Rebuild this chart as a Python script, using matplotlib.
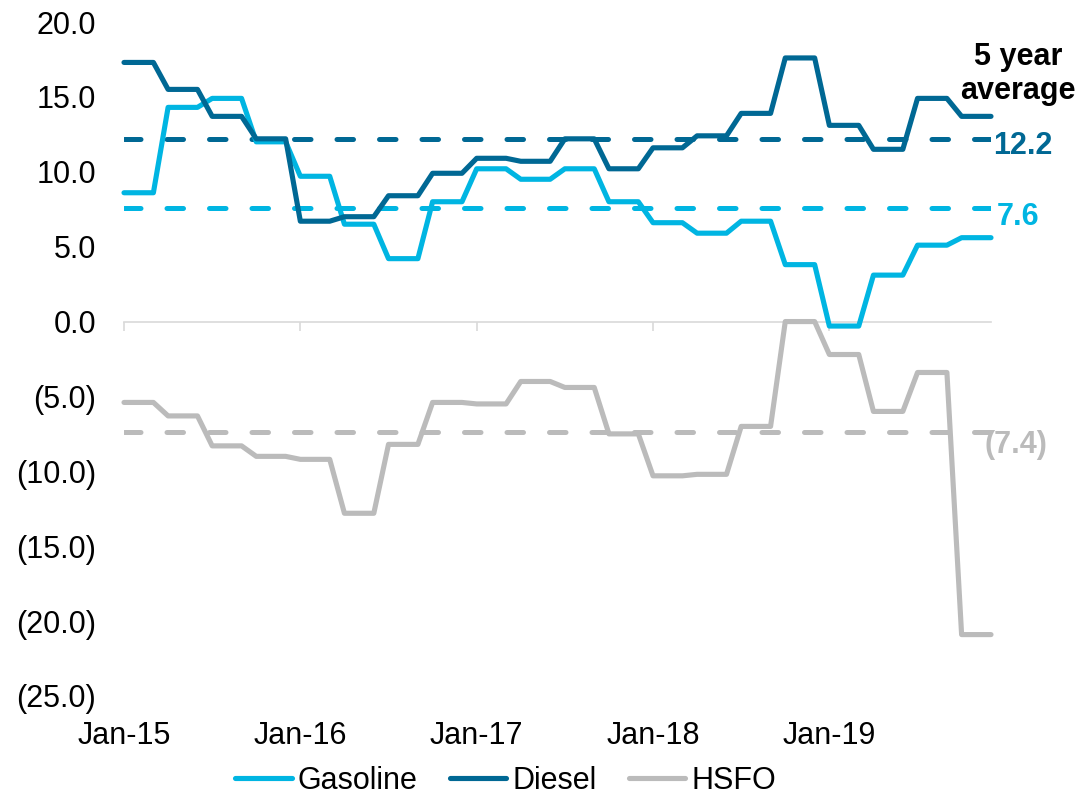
import matplotlib
matplotlib.use("Agg")
import matplotlib.pyplot as plt
from matplotlib.ticker import FuncFormatter
import numpy as np

plt.rcParams['font.family'] = ['Liberation Sans', 'DejaVu Sans']

# monthly spreads, Jan-15 .. Dec-19
gasoline = [8.6, 8.6, 8.6, 14.3, 14.3, 14.3, 14.9, 14.9, 14.9, 12.0, 12.0, 12.0,
            9.7, 9.7, 9.7, 6.5, 6.5, 6.5, 4.2, 4.2, 4.2, 8.0, 8.0, 8.0,
            10.2, 10.2, 10.2, 9.5, 9.5, 9.5, 10.2, 10.2, 10.2, 8.0, 8.0, 8.0,
            6.6, 6.6, 6.6, 5.9, 5.9, 5.9, 6.7, 6.7, 6.7, 3.8, 3.8, 3.8,
            -0.3, -0.3, -0.3, 3.1, 3.1, 3.1, 5.1, 5.1, 5.1, 5.6, 5.6, 5.6]
diesel = [17.3, 17.3, 17.3, 15.5, 15.5, 15.5, 13.7, 13.7, 13.7, 12.2, 12.2, 12.2,
          6.7, 6.7, 6.7, 7.0, 7.0, 7.0, 8.4, 8.4, 8.4, 9.9, 9.9, 9.9,
          10.9, 10.9, 10.9, 10.7, 10.7, 10.7, 12.2, 12.2, 12.2, 10.2, 10.2, 10.2,
          11.6, 11.6, 11.6, 12.4, 12.4, 12.4, 13.9, 13.9, 13.9, 17.6, 17.6, 17.6,
          13.1, 13.1, 13.1, 11.5, 11.5, 11.5, 14.9, 14.9, 14.9, 13.7, 13.7, 13.7]
hsfo = [-5.4, -5.4, -5.4, -6.3, -6.3, -6.3, -8.3, -8.3, -8.3, -9.0, -9.0, -9.0,
        -9.2, -9.2, -9.2, -12.8, -12.8, -12.8, -8.2, -8.2, -8.2, -5.4, -5.4, -5.4,
        -5.5, -5.5, -5.5, -4.0, -4.0, -4.0, -4.4, -4.4, -4.4, -7.5, -7.5, -7.5,
        -10.3, -10.3, -10.3, -10.2, -10.2, -10.2, -7.0, -7.0, -7.0, 0.0, 0.0, 0.0,
        -2.2, -2.2, -2.2, -6.0, -6.0, -6.0, -3.4, -3.4, -3.4, -20.9, -20.9, -20.9]

avg_gasoline = 7.6
avg_diesel = 12.2
avg_hsfo = -7.4

year_ticks = [0, 12, 24, 36, 48]
year_labels = ['Jan-15', 'Jan-16', 'Jan-17', 'Jan-18', 'Jan-19']

c_gas = '#00B5E2'
c_dsl = '#006894'
c_hsfo = '#BBBBBB'

x = np.arange(len(gasoline))

fig = plt.figure(figsize=(10.84, 7.95), dpi=100)
ax = fig.add_axes([124/1084, 1-696/795, (991-124)/1084, (696-22)/795])

dash = (0, (3.3, 5.2))
ax.axhline(avg_diesel, color=c_dsl, lw=3.6, ls=dash, dash_capstyle='round', zorder=2)
ax.axhline(avg_gasoline, color=c_gas, lw=3.6, ls=dash, dash_capstyle='round', zorder=2)
ax.axhline(avg_hsfo, color=c_hsfo, lw=3.6, ls=dash, dash_capstyle='round', zorder=2)

l1, = ax.plot(x, gasoline, color=c_gas, lw=3.7, label='Gasoline',
              solid_capstyle='round', solid_joinstyle='round', clip_on=False, zorder=3)
l2, = ax.plot(x, diesel, color=c_dsl, lw=3.7, label='Diesel',
              solid_capstyle='round', solid_joinstyle='round', clip_on=False, zorder=3)
l3, = ax.plot(x, hsfo, color=c_hsfo, lw=3.7, label='HSFO',
              solid_capstyle='round', solid_joinstyle='round', clip_on=False, zorder=3)

ax.set_xlim(0, len(x) - 1)
ax.set_ylim(-25, 20)
ax.set_yticks(np.arange(-25, 21, 5))
ax.yaxis.set_major_formatter(FuncFormatter(
    lambda v, p: f'{v:.1f}' if v >= 0 else f'({abs(v):.1f})'))
ax.tick_params(axis='y', length=0, pad=20, labelsize=22)

for s in ['left', 'right', 'top']:
    ax.spines[s].set_visible(False)
ax.spines['bottom'].set_position(('data', 0))
ax.spines['bottom'].set_color('#D9D9D9')
ax.spines['bottom'].set_linewidth(1.2)
ax.spines['bottom'].set_zorder(1)
ax.set_xticks(year_ticks)
ax.tick_params(axis='x', direction='out', length=6.5, width=1.2,
               color='#D9D9D9', labelbottom=False)

sec = ax.secondary_xaxis('bottom')
sec.set_xticks(year_ticks, year_labels)
sec.tick_params(length=0, pad=18, labelsize=22)
sec.spines['bottom'].set_visible(False)

# labels for the averages
ax.annotate('12.2', xy=(x[-1], avg_diesel), xytext=(1.5, -11), textcoords='offset points',
            ha='left', va='baseline', fontsize=22, fontweight='bold', color=c_dsl,
            annotation_clip=False)
ax.annotate('7.6', xy=(x[-1], avg_gasoline), xytext=(4.5, -12.5), textcoords='offset points',
            ha='left', va='baseline', fontsize=22, fontweight='bold', color=c_gas,
            annotation_clip=False)
ax.annotate('(7.4)', xy=(x[-1], avg_hsfo), xytext=(-4.5, -15), textcoords='offset points',
            ha='left', va='baseline', fontsize=22, fontweight='bold', color=c_hsfo,
            annotation_clip=False)
fig.text(1018/1084, 1-74/795, '5 year\naverage', ha='center', va='center',
         fontsize=22, fontweight='bold', color='black', linespacing=1.15)

fig.legend(handles=[l1, l2, l3], loc='center', bbox_to_anchor=(505.5/1084, 1-781/795),
           ncol=3, frameon=False, fontsize=22, handlelength=1.85,
           handletextpad=0.2, columnspacing=1.05)

fig.savefig('out.png', dpi=100)
